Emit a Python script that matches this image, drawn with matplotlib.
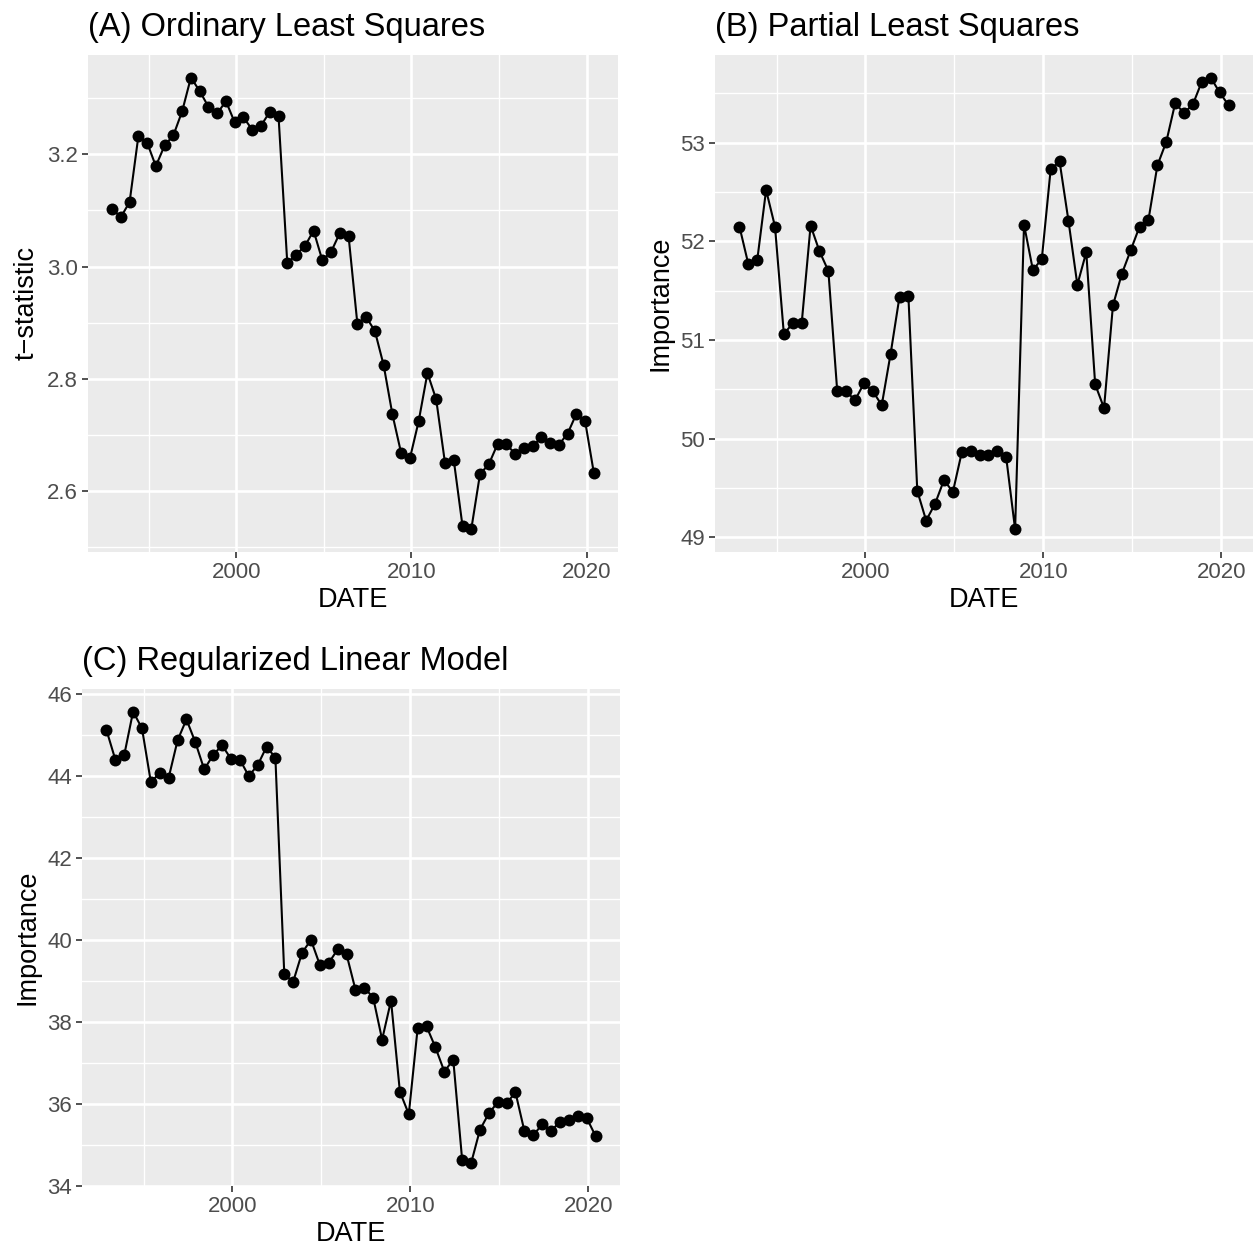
import matplotlib
matplotlib.use("Agg")
import matplotlib.pyplot as plt
import matplotlib.dates as mdates
from matplotlib.ticker import MultipleLocator
import pandas as pd

# Semi-annual estimation dates
dates = pd.date_range("1992-12-01", periods=56, freq="6MS")

# (A) OLS t-statistic
ols_tstat = [3.103, 3.088, 3.115, 3.232, 3.221, 3.179, 3.216, 3.234, 3.277, 3.337,
             3.313, 3.285, 3.273, 3.295, 3.257, 3.266, 3.244, 3.251, 3.276, 3.269,
             3.006, 3.021, 3.036, 3.064, 3.011, 3.026, 3.060, 3.054, 2.898, 2.910,
             2.885, 2.824, 2.736, 2.667, 2.658, 2.724, 2.810, 2.763, 2.650, 2.655,
             2.537, 2.531, 2.630, 2.647, 2.683, 2.683, 2.666, 2.677, 2.679, 2.695,
             2.686, 2.682, 2.702, 2.737, 2.724, 2.631]

# (B) PLS variable importance
pls_importance = [52.15, 51.77, 51.81, 52.52, 52.15, 51.06, 51.17, 51.17, 52.16, 51.90,
                  51.70, 50.48, 50.48, 50.39, 50.56, 50.48, 50.34, 50.86, 51.44, 51.45,
                  49.47, 49.17, 49.34, 49.58, 49.46, 49.86, 49.87, 49.83, 49.83, 49.87,
                  49.81, 49.08, 52.17, 51.71, 51.82, 52.73, 52.81, 52.21, 51.56, 51.89,
                  50.55, 50.31, 51.35, 51.67, 51.91, 52.15, 52.22, 52.77, 53.01, 53.40,
                  53.30, 53.39, 53.62, 53.66, 53.51, 53.38]

# (C) Regularized linear model variable importance
rlm_importance = [45.12, 44.40, 44.51, 45.57, 45.16, 43.85, 44.07, 43.96, 44.87, 45.38,
                  44.82, 44.16, 44.51, 44.75, 44.42, 44.40, 44.00, 44.26, 44.71, 44.45,
                  39.16, 38.98, 39.69, 40.00, 39.39, 39.44, 39.77, 39.65, 38.79, 38.84,
                  38.59, 37.57, 38.52, 36.30, 35.75, 37.85, 37.89, 37.38, 36.79, 37.08,
                  34.63, 34.55, 35.37, 35.77, 36.04, 36.02, 36.28, 35.34, 35.24, 35.50,
                  35.34, 35.57, 35.62, 35.71, 35.66, 35.22]

titles = ["(A) Ordinary Least Squares", "(B) Partial Least Squares",
          "(C) Regularized Linear Model"]
ylabels = ["t\u2212statistic", "Importance", "Importance"]
y_major = [0.2, 1.0, 2.0]

plt.rcParams["font.family"] = ["Liberation Sans", "DejaVu Sans"]

W, H = 1256, 1249
fig = plt.figure(figsize=(W / 100, H / 100), dpi=100)

def rect(left, top, right, bottom):
    return [left / W, 1 - bottom / H, (right - left) / W, (bottom - top) / H]

rects = [rect(88, 55, 618, 552), rect(715, 55, 1253, 552), rect(82, 689, 620, 1186)]
series = [ols_tstat, pls_importance, rlm_importance]

for r, vals, title, ylab, step in zip(rects, series, titles, ylabels, y_major):
    ax = fig.add_axes(r)
    ax.set_facecolor("#EBEBEB")
    for s in ax.spines.values():
        s.set_visible(False)
    ax.plot(dates, vals, color="black", lw=1.5, marker="o", ms=8.6,
            markeredgewidth=0, zorder=3)
    ax.margins(x=0.05, y=0.05)

    ax.xaxis.set_major_locator(mdates.YearLocator(10))
    ax.xaxis.set_minor_locator(mdates.YearLocator(5))
    ax.xaxis.set_major_formatter(mdates.DateFormatter("%Y"))
    ax.yaxis.set_major_locator(MultipleLocator(step))
    ax.yaxis.set_minor_locator(MultipleLocator(step / 2))
    if step < 1:
        ax.yaxis.set_major_formatter(plt.FormatStrFormatter("%.1f"))

    ax.grid(which="major", color="white", lw=1.9, zorder=0)
    ax.grid(which="minor", color="white", lw=1.0, zorder=0)
    ax.set_axisbelow(True)

    ax.tick_params(which="major", direction="out", length=4.3, width=1.2,
                   color="#333333", labelcolor="#4D4D4D", labelsize=16, pad=3)
    ax.tick_params(which="minor", length=0)

    ax.set_title(title, loc="left", fontsize=23.5, color="black", pad=14)
    ax.set_xlabel("DATE", fontsize=19.5, color="black", labelpad=3)
    ax.set_ylabel(ylab, fontsize=19.5, color="black", labelpad=5)

fig.savefig("out.png", dpi=100, facecolor="white")
